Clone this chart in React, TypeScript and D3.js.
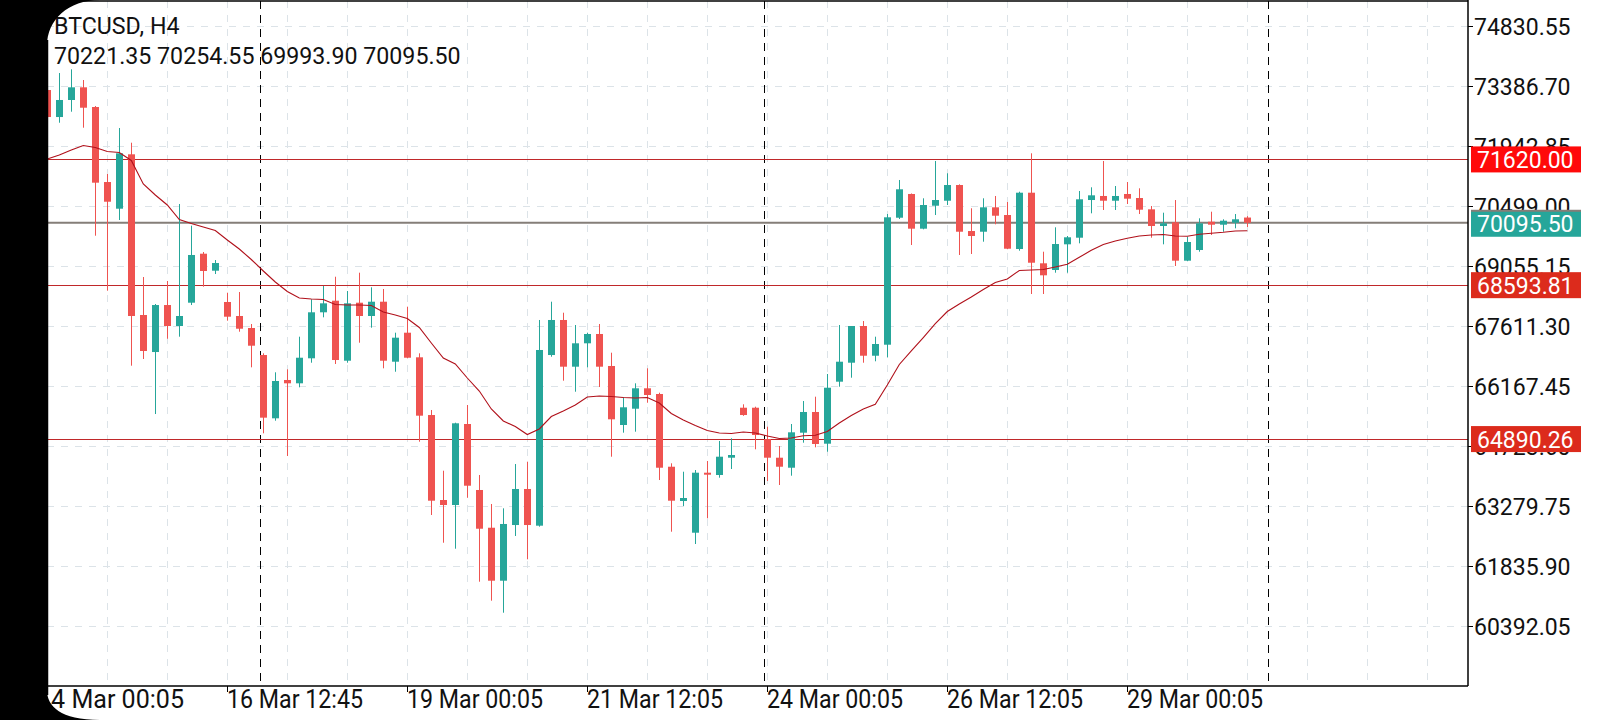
import React from "react";
import * as d3 from "d3";

const symbolTitle = "BTCUSD, H4";
const headerOHLC = ["70221.35", "70254.55", "69993.90", "70095.50"];

const opens = [
  73290, 72640, 73050, 73355, 72881, 71076, 70434, 71743, 67876, 66985,
  68116, 67611, 68172, 69351, 68942, 68189, 67852, 67563, 66913, 65390,
  66312, 66232, 66834, 67941, 68220, 66776, 68172, 67852, 68196, 66752,
  67450, 66858, 65469, 63424, 63304, 65253, 63665, 62757, 61482, 62822,
  63689, 62806, 66913, 67756, 66632, 67195, 67419, 66649, 65229, 65621,
  66112, 65975, 64225, 63400, 62637, 64081, 64026, 64442, 65645, 65645,
  64892, 64442, 64201, 65044, 65542, 64779, 66271, 66728, 67611, 66896,
  67161, 70217, 70788, 69953, 70506, 70626, 71004, 69897, 69880, 70467,
  70282, 69464, 70819, 69120, 68959, 69577, 69736, 70643, 70740, 70626,
  70788, 70691, 70419, 70018, 70107, 69183, 69440, 70121, 70049, 70097,
  70221.35,
];
const highs = [
  73386, 73699, 73788, 73531, 72905, 71269, 72376, 72022, 68790, 68140,
  68694, 70547, 70025, 69392, 69199, 68412, 68429, 67659, 66954, 66497,
  66569, 67354, 68254, 68574, 68797, 68453, 68894, 68542, 68502, 67450,
  68076, 66954, 65590, 64129, 65284, 65710, 64026, 63328, 63224, 64290,
  64346, 67756, 68196, 67931, 67635, 67450, 67659, 66969, 65895, 66232,
  66593, 66006, 64307, 64105, 64146, 64362, 64844, 64909, 65727, 65669,
  65188, 64723, 65253, 65806, 65910, 66456, 67635, 67611, 67731, 67354,
  70306, 71125, 70800, 70684, 71582, 71286, 71020, 70444, 70684, 70740,
  70595, 70843, 71767, 69399, 69986, 69777, 70860, 70949, 71582, 70980,
  71076, 70925, 70499, 70338, 70643, 69760, 70203, 70362, 70179, 70306,
  70254.55,
];
const lows = [
  72592, 72503, 72768, 72383, 69784, 68461, 70162, 66656, 66817, 65493,
  67305, 67354, 68116, 68557, 68862, 67739, 67474, 66617, 65029, 65332,
  64483, 66136, 66728, 67820, 66697, 66728, 67209, 67570, 66593, 66511,
  66834, 64827, 63063, 62396, 62252, 63479, 61458, 61001, 60712, 62558,
  61997, 62782, 66872, 66295, 66030, 66617, 66143, 64466, 65044, 65068,
  65765, 63905, 62661, 63280, 62365, 62984, 63961, 64170, 65450, 64644,
  63881, 63785, 64009, 64803, 64692, 64586, 66150, 66367, 66728, 66762,
  66858, 70186, 69560, 69938, 70282, 70523, 69320, 69344, 69640, 70058,
  69460, 69423, 68381, 68381, 68894, 68894, 69601, 70323, 70403, 70403,
  70547, 70306, 69736, 69577, 69055, 69170, 69399, 69801, 69880, 69962,
  69993.9,
];
const closes = [
  72640, 73050, 73355, 72864, 71060, 70602, 71767, 67852, 67010, 68116,
  67611, 67852, 69320, 68935, 69127, 67835, 67546, 67137, 65405, 66288,
  66232, 66848, 67941, 68157, 66793, 68157, 67852, 68196, 66776, 67330,
  66848, 65453, 63407, 63304, 65270, 63768, 62733, 61482, 62847, 63689,
  62822, 67034, 67756, 66632, 67195, 67419, 66632, 65366, 65655, 66112,
  65951, 64201, 63407, 63472, 64081, 64033, 64466, 64507, 65469, 64988,
  64442, 64225, 65053, 65542, 64772, 66126, 66752, 67611, 66896, 67178,
  70227, 70901, 69953, 70523, 70643, 71004, 69880, 69777, 70467, 70265,
  69471, 70819, 69134, 68831, 69584, 69746, 70660, 70756, 70626, 70740,
  70675, 70410, 70018, 70083, 69183, 69633, 70083, 70049, 70145, 70179,
  70095.5,
];
const maValues = [
  71630, 71726, 71846, 71955, 71907, 71810, 71786, 71594, 71028, 70764,
  70523, 70174, 70078, 69994, 69909, 69681, 69464, 69211, 68935, 68670,
  68441, 68285, 68261, 68249, 68129, 68116, 68116, 68104, 67948, 67876,
  67792, 67575, 67202, 66841, 66697, 66360, 66047, 65614, 65325, 65193,
  65000, 65133, 65433, 65566, 65710, 65903, 65927, 65915, 65891, 65879,
  65891, 65758, 65506, 65349, 65217, 65096, 65036, 65024, 65060, 65036,
  64964, 64904, 64916, 64971, 64981, 65072, 65277, 65457, 65614, 65727,
  66191, 66685, 67010, 67334, 67671, 67960, 68140, 68309, 68490, 68658,
  68742, 68947, 68959, 68971, 69031, 69096, 69264, 69433, 69572, 69657,
  69722, 69777, 69801, 69813, 69777, 69770, 69818, 69842, 69866, 69897,
  69904,
];

const priceTicks = [
  74830.55, 73386.7, 71942.85, 70499.0, 69055.15, 67611.3, 66167.45,
  64723.6, 63279.75, 61835.9, 60392.05,
];
const timeLabels = [
  "14 Mar 00:05", "16 Mar 12:45", "19 Mar 00:05", "21 Mar 12:05",
  "24 Mar 00:05", "26 Mar 12:05", "29 Mar 00:05",
];
const timeLabelBars = [0, 15, 30, 45, 60, 75, 90];
const weekSeparatorBars = [17.75, 59.75, 101.75];
const levelPrices = [71620.0, 68593.81, 64890.26];
const levelBoxColors = ["#FF0A0A", "#DC2B1C", "#DC2B1C"];
const currentPrice = 70095.5;

const W = 1600;
const H = 720;
const left = 47;
const right = 1468;
const top = 1;
const bottom = 686;

const BULL = "#26A69A";
const BEAR = "#EF5350";
const GRID = "#DCE3E8";
const FONT = "Roboto, 'Noto Sans', sans-serif";

export default function App() {
  const y = d3.scaleLinear().domain([60392.05, 74830.55]).range([626, 26]);
  const x = d3.scaleLinear().domain([0, 100]).range([47.3, 1247.3]);

  const gridXs: number[] = [];
  for (let b = 5; x(b) < right; b += 5) gridXs.push(x(b));

  const maLine = d3
    .line<number>()
    .x((_, i) => x(i))
    .y((v) => y(v))(maValues) as string;

  const fmt = (v: number) => v.toFixed(2);

  return (
    <div style={{ position: "fixed", left: 0, top: 0, width: W, height: H, background: "#fff" }}>
      <svg width={W} height={H} style={{ display: "block" }} fontFamily={FONT}>
        <defs>
          <clipPath id="plot">
            <rect x={left} y={top} width={right - left} height={bottom - top} />
          </clipPath>
        </defs>
        <rect x={0} y={0} width={W} height={H} fill="#fff" />

        {/* grid */}
        <g stroke={GRID} strokeWidth={1} strokeDasharray="7,7">
          {priceTicks.map((p, i) => (
            <line key={"h" + i} x1={left} x2={right} y1={Math.round(y(p)) + 0.5} y2={Math.round(y(p)) + 0.5} />
          ))}
          {gridXs.map((gx, i) => (
            <line key={"v" + i} x1={Math.round(gx) + 0.5} x2={Math.round(gx) + 0.5} y1={top} y2={bottom} />
          ))}
        </g>

        {/* week separators */}
        <g stroke="#000" strokeWidth={1} strokeDasharray="8,6">
          {weekSeparatorBars.map((b, i) => (
            <line key={i} x1={Math.round(x(b)) + 0.5} x2={Math.round(x(b)) + 0.5} y1={top} y2={bottom} />
          ))}
        </g>

        <g clipPath="url(#plot)">
          {/* level lines */}
          {levelPrices.map((p, i) => (
            <line key={i} x1={left} x2={right} y1={Math.round(y(p)) + 0.5} y2={Math.round(y(p)) + 0.5} stroke="#C0282A" strokeWidth={1} />
          ))}
          <line x1={left} x2={right} y1={y(currentPrice)} y2={y(currentPrice)} stroke="#857E78" strokeWidth={2} />

          {/* candles */}
          {opens.map((o, i) => {
            const c = closes[i];
            const cx = Math.round(x(i));
            const col = c >= o ? BULL : BEAR;
            const yT = y(Math.max(o, c));
            const yB = y(Math.min(o, c));
            return (
              <g key={i}>
                <line x1={cx + 0.5} x2={cx + 0.5} y1={y(highs[i])} y2={y(lows[i])} stroke={col} strokeWidth={1} />
                <rect x={cx - 3} y={yT} width={7} height={Math.max(1.5, yB - yT)} fill={col} />
              </g>
            );
          })}

          {/* moving average */}
          <path d={maLine} fill="none" stroke="#B0101A" strokeWidth={1.1} />
        </g>

        {/* frame */}
        <g stroke="#000" strokeWidth={1.5} fill="none">
          <line x1={left} x2={right} y1={top} y2={top} />
          <line x1={right} x2={right} y1={0} y2={bottom} />
          <line x1={left} x2={right} y1={bottom} y2={bottom} />
        </g>

        {/* price axis */}
        {priceTicks.map((p, i) => (
          <g key={i}>
            <line x1={right} x2={right + 5} y1={Math.round(y(p)) + 0.5} y2={Math.round(y(p)) + 0.5} stroke="#000" />
            <text x={1474} y={y(p) + 8.5} fontSize={23} fill="#111">{fmt(p)}</text>
          </g>
        ))}

        {/* level boxes */}
        {levelPrices.map((p, i) => (
          <g key={i}>
            <rect x={1471} y={y(p) - 13} width={110} height={26} fill={levelBoxColors[i]} />
            <text x={1477} y={y(p) + 8.5} fontSize={23} fill="#fff">{fmt(p)}</text>
          </g>
        ))}
        <g>
          <rect x={1471} y={y(currentPrice) - 12} width={110} height={26} fill={BULL} />
          <rect x={1471} y={y(currentPrice) - 13} width={110} height={2} fill="#857E78" />
          <text x={1477} y={y(currentPrice) + 9} fontSize={23} fill="#fff">{fmt(currentPrice)}</text>
        </g>

        {/* time axis */}
        {timeLabels.map((t, i) => {
          const tx = Math.round(x(timeLabelBars[i]));
          const sx = i === 0 ? tx - 10 : tx;
          return (
            <g key={i}>
              <line x1={tx + 0.5} x2={tx + 0.5} y1={bottom} y2={bottom + 6} stroke="#000" />
              <text x={sx} y={708} fontSize={25} fill="#111" textLength={i === 0 ? 147 : 136} lengthAdjust="spacingAndGlyphs">{t}</text>
            </g>
          );
        })}

        {/* header */}
        <text x={54} y={34} fontSize={23.2} fill="#111">{symbolTitle}</text>
        <text x={54} y={64} fontSize={23.2} fill="#111">{headerOHLC.join(" ")}</text>

        {/* device screen corner mask */}
        <path d="M0,0 L100,0 C68,0 47,20 47,46 L47,690 C47,706 60,720 100,720 L0,720 Z" fill="#000" />
        <line x1={47.5} x2={47.5} y1={40} y2={695} stroke="#000" strokeWidth={1.5} />
      </svg>
    </div>
  );
}
